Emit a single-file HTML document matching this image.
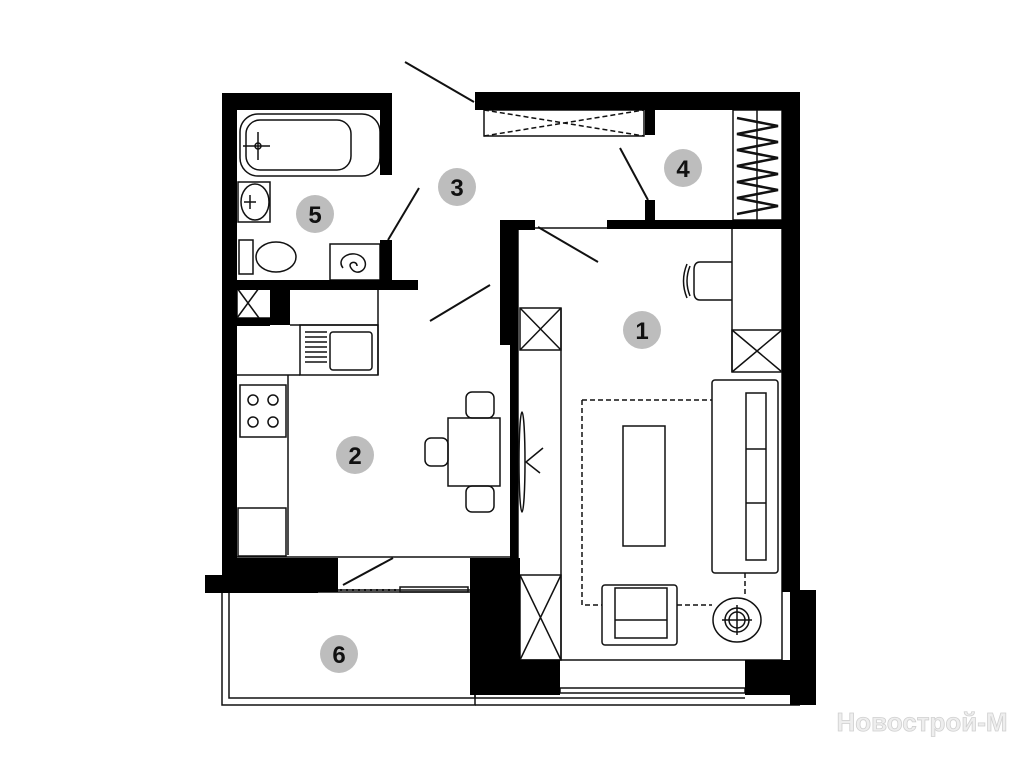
<!DOCTYPE html>
<html><head><meta charset="utf-8"><style>html,body{margin:0;padding:0;background:#fff;width:1024px;height:768px;overflow:hidden}</style></head>
<body>
<svg width="1024" height="768" viewBox="0 0 1024 768" xmlns="http://www.w3.org/2000/svg" font-family="Liberation Sans, sans-serif">
<g fill="none" stroke="#111" stroke-width="1.5">
<!-- balcony -->
<rect x="222" y="590" width="253" height="115"/>
<rect x="229" y="592" width="246" height="106"/>
<line x1="475" y1="698" x2="745" y2="698"/>
<line x1="475" y1="705" x2="800" y2="705"/>
<!-- bathroom -->
<rect x="240" y="114" width="140" height="62" rx="18"/>
<rect x="246" y="120" width="105" height="50" rx="14"/>
<line x1="258" y1="132" x2="258" y2="160"/><line x1="243" y1="146" x2="270" y2="146"/><circle cx="258" cy="146" r="3"/>
<rect x="238" y="182" width="32" height="40"/>
<ellipse cx="255" cy="202" rx="14" ry="18"/>
<line x1="244" y1="202" x2="256" y2="202"/><line x1="250" y1="195" x2="250" y2="209"/>
<rect x="239" y="240" width="14" height="34"/>
<ellipse cx="276" cy="257" rx="20" ry="15"/>
<rect x="330" y="244" width="50" height="36"/>
<path d="M343 268 c-8 -10 10 -20 20 -10 c8 10 -6 20 -12 10 c-4 -6 6 -8 6 -2"/>
<line x1="388" y1="240" x2="419" y2="188" stroke-width="2"/>
<!-- corridor -->
<line x1="405" y1="62" x2="474" y2="102" stroke-width="2"/>
<line x1="430" y1="321" x2="490" y2="285" stroke-width="2"/>
<line x1="538" y1="227" x2="598" y2="262" stroke-width="2"/>
<line x1="620" y1="148" x2="648" y2="200" stroke-width="2"/>
<rect x="484" y="110" width="160" height="26"/>
<path d="M484 110 L644 136 M484 136 L644 110" stroke-dasharray="5,3"/>
<!-- wardrobe 4 -->
<rect x="733" y="110" width="49" height="110"/>
<line x1="757" y1="110" x2="757" y2="220"/>
<path d="M737 118 L778 126 L737 134 L778 142 L737 150 L778 158 L737 166 L778 174 L737 182 L778 190 L737 198 L778 206 L737 214" stroke-width="2.5"/>
<!-- kitchen -->
<rect x="237" y="288" width="34" height="30"/><path d="M237 288 L259 318 M259 288 L237 318"/>
<line x1="290" y1="325" x2="378" y2="325"/>
<line x1="378" y1="290" x2="378" y2="375"/>
<rect x="300" y="325" width="78" height="50"/>
<rect x="330" y="332" width="42" height="38" rx="3"/>
<path d="M305 332h22M305 337h22M305 342h22M305 347h22M305 352h22M305 357h22M305 362h22"/>
<line x1="237" y1="375" x2="300" y2="375"/>
<line x1="288" y1="375" x2="288" y2="555"/>
<rect x="240" y="385" width="46" height="52"/>
<circle cx="253" cy="400" r="5"/><circle cx="273" cy="400" r="5"/><circle cx="253" cy="422" r="5"/><circle cx="273" cy="422" r="5"/>
<rect x="238" y="508" width="48" height="48"/>
<line x1="237" y1="557" x2="510" y2="557"/>
<!-- dining -->
<rect x="448" y="418" width="52" height="68"/>
<rect x="466" y="392" width="28" height="26" rx="6"/>
<rect x="466" y="486" width="28" height="26" rx="6"/>
<rect x="425" y="438" width="23" height="28" rx="6"/>
<ellipse cx="522" cy="462" rx="3" ry="50"/>
<path d="M543 448 L526 462 L540 473"/>
<!-- room1 -->
<rect x="518" y="228" width="264" height="432"/>
<line x1="561" y1="308" x2="561" y2="660"/>
<rect x="520" y="308" width="41" height="42"/><path d="M520 308 L561 350 M561 308 L520 350"/>
<rect x="520" y="575" width="41" height="85"/><path d="M520 575 L561 660 M561 575 L520 660"/>
<line x1="732" y1="228" x2="732" y2="372"/>
<rect x="732" y="330" width="50" height="42"/><path d="M732 330 L782 372 M782 330 L732 372"/>
<path d="M732 262 L700 262 Q694 262 694 270 L694 292 Q694 300 700 300 L732 300"/>
<path d="M690 266 Q684 281 690 296 M687 264 Q680 281 687 298"/>
<rect x="712" y="380" width="66" height="193" rx="3"/>
<rect x="746" y="393" width="20" height="167"/>
<line x1="746" y1="449" x2="766" y2="449"/><line x1="746" y1="503" x2="766" y2="503"/>
<rect x="623" y="426" width="42" height="120"/>
<path d="M582 400 L712 400 M582 400 L582 605 L602 605 M677 605 L712 605 M745 573 L745 597" stroke-dasharray="5,3"/>
<rect x="602" y="585" width="75" height="60" rx="3"/>
<rect x="615" y="588" width="52" height="50"/>
<line x1="615" y1="620" x2="667" y2="620"/>
<ellipse cx="737" cy="620" rx="24" ry="22"/>
<circle cx="737" cy="620" r="12"/><circle cx="737" cy="620" r="8"/>
<line x1="722" y1="620" x2="752" y2="620"/><line x1="737" y1="605" x2="737" y2="635"/>
<!-- balcony door/window -->
<line x1="343" y1="585" x2="393" y2="558" stroke-width="2"/>
<path d="M340 590 L400 590" stroke-dasharray="2,4" stroke-width="2"/>
<rect x="400" y="587" width="68" height="5"/>
<rect x="560" y="688" width="185" height="5"/>
</g>
<g fill="#000">
<rect x="222" y="93" width="15" height="497"/>
<rect x="222" y="93" width="170" height="17"/>
<rect x="380" y="93" width="12" height="82"/>
<rect x="380" y="240" width="12" height="45"/>
<rect x="237" y="280" width="181" height="10"/>
<rect x="270" y="288" width="20" height="37"/>
<rect x="237" y="318" width="33" height="8"/>
<rect x="475" y="92" width="325" height="18"/>
<rect x="782" y="92" width="18" height="500"/>
<rect x="790" y="590" width="26" height="115"/>
<rect x="745" y="660" width="70" height="35"/>
<rect x="607" y="220" width="175" height="9"/>
<rect x="645" y="110" width="10" height="25"/>
<rect x="645" y="200" width="10" height="22"/>
<rect x="500" y="220" width="35" height="10"/>
<rect x="500" y="220" width="18" height="125"/>
<rect x="510" y="345" width="8" height="215"/>
<rect x="470" y="558" width="50" height="137"/>
<rect x="470" y="660" width="90" height="35"/>
<rect x="205" y="575" width="113" height="18"/>
<rect x="222" y="558" width="116" height="34"/>
</g>
<g fill="#bdbdbd">
<circle cx="642" cy="330" r="19"/><circle cx="355" cy="455" r="19"/><circle cx="457" cy="187" r="19"/>
<circle cx="683" cy="168" r="19"/><circle cx="315" cy="214" r="19"/><circle cx="339" cy="654" r="19"/>
</g>
<g fill="#111" font-size="24" font-weight="bold" text-anchor="middle">
<text x="642" y="339">1</text><text x="355" y="464">2</text><text x="457" y="196">3</text>
<text x="683" y="177">4</text><text x="315" y="223">5</text><text x="339" y="663">6</text>
</g>
<text x="922" y="731" font-size="26" font-weight="bold" fill="#eeeeee" stroke="#d0d0d0" stroke-width="0.8" text-anchor="middle">Новострой-М</text>
</svg>
</body></html>
